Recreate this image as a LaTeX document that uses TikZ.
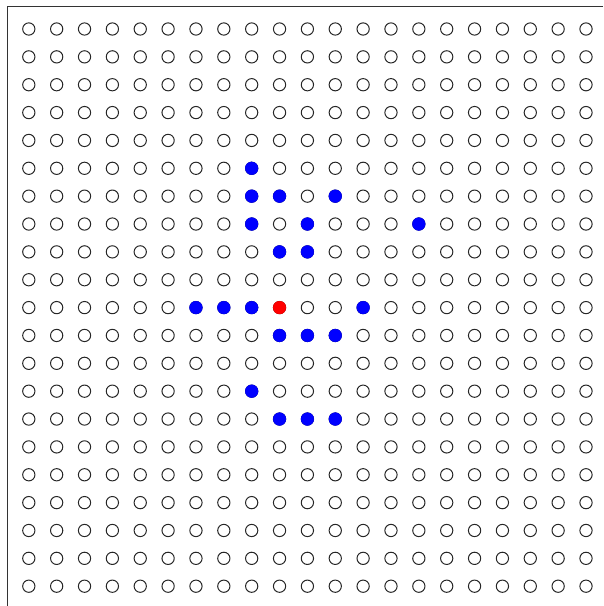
\documentclass[tikz,border=0pt]{standalone}
\begin{document}
\begin{tikzpicture}[x=0.75pt,y=-0.75pt,
  dot/.style={circle,draw=black!85,line width=0.75pt,minimum size=9.2pt,inner sep=0pt},
  bluedot/.style={circle,fill=blue,draw=blue,line width=0.3pt,minimum size=9.6pt,inner sep=0pt},
  reddot/.style={circle,fill=red,draw=red,line width=0.3pt,minimum size=9.6pt,inner sep=0pt},
  frame/.style={line width=0.75pt,draw=black!80}]
\useasboundingbox (0,0) rectangle (603,606);
\coordinate (tl) at (7,7);
\coordinate (tr) at (603,7);
\coordinate (bl) at (7,606);
\draw[frame] (tr) -- (tl) -- (bl);
\foreach \i in {0,...,20}{
  \foreach \j in {0,...,20}{
    \node[dot] (c-\i-\j) at ({28.8+27.86*\i},{29+27.86*\j}) {};
  }
}
\foreach \i/\j in {8/5, 8/6, 9/6, 11/6, 8/7, 10/7, 14/7, 9/8, 10/8, 6/10, 7/10, 8/10, 12/10, 9/11, 10/11, 11/11, 8/13, 9/14, 10/14, 11/14}{
  \node[bluedot] (b-\i-\j) at (c-\i-\j) {};
}
\node[reddot] (r-9-10) at (c-9-10) {};
\end{tikzpicture}
\end{document}
